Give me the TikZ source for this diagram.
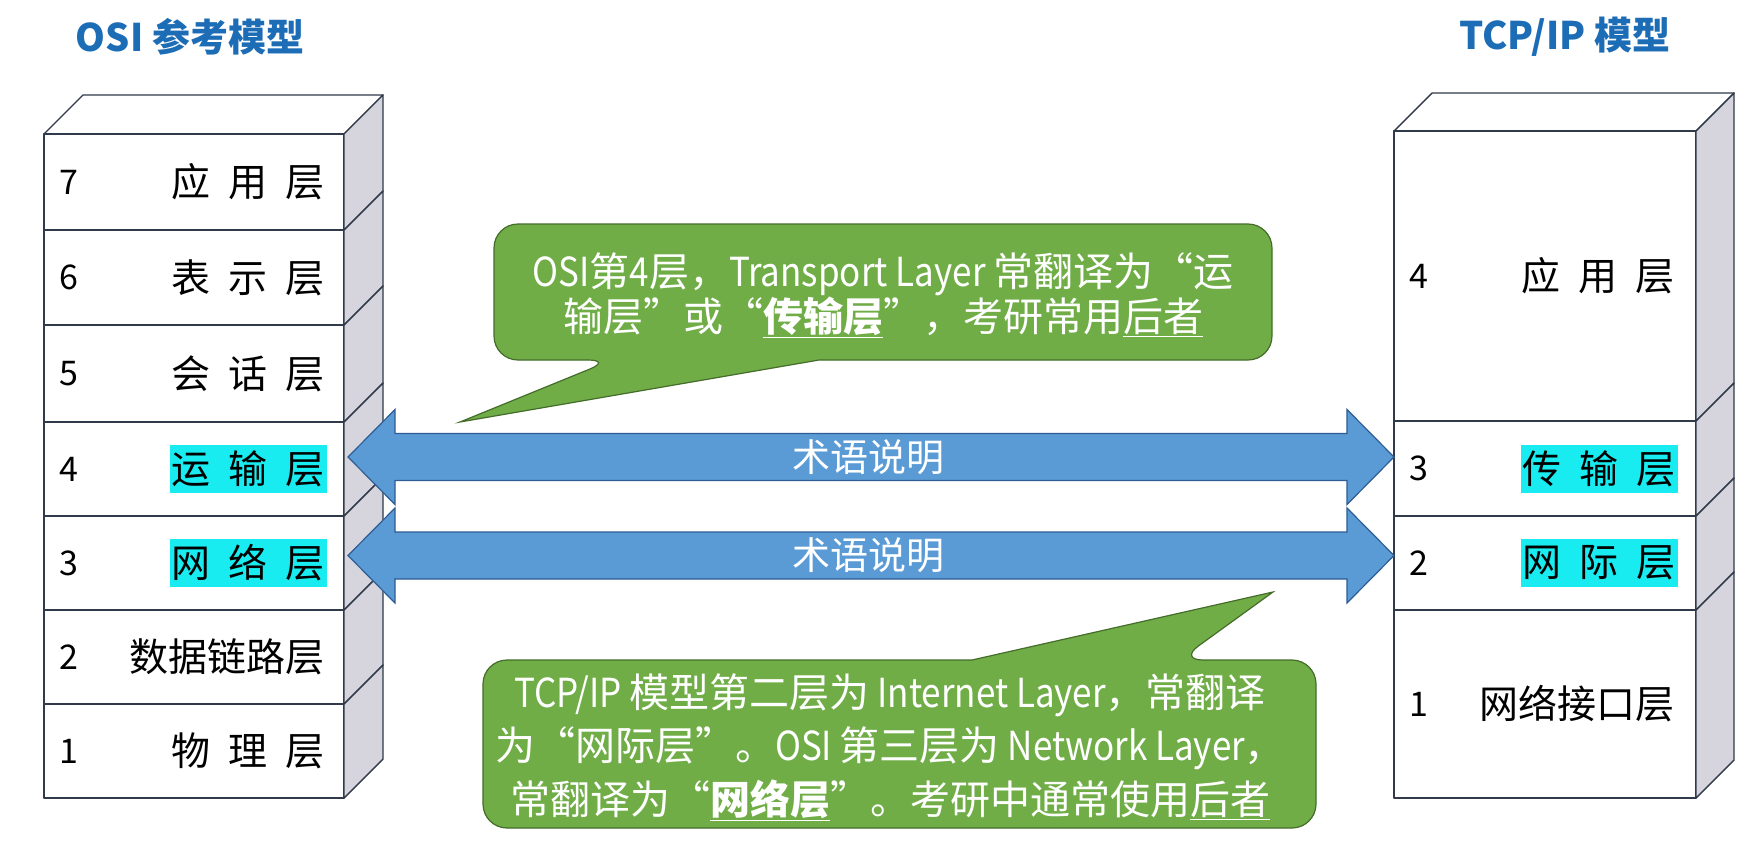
\documentclass[tikz,border=0pt]{standalone}
\usepackage{fontspec}
\usepackage{graphicx}
\setmainfont{Noto Sans CJK SC}
\usetikzlibrary{calc}
\definecolor{titleblue}{RGB}{28,108,182}
\definecolor{edge}{RGB}{48,58,74}
\definecolor{sidegray}{RGB}{214,213,222}
\definecolor{hl}{RGB}{24,236,240}
\definecolor{arrowfill}{RGB}{91,155,213}
\definecolor{arrowline}{RGB}{46,92,148}
\definecolor{callfill}{RGB}{112,173,71}
\definecolor{callline}{RGB}{68,108,42}
\newcommand{\fs}[1]{\fontsize{#1}{#1}\selectfont}
% narrower Latin runs inside the notes
\newcommand{\lat}[1]{\scalebox{0.875}[1]{#1}}
\begin{document}
\begin{tikzpicture}[x=1pt,y=-1pt,
  face/.style={draw=edge, line width=1.4pt, fill=white, line join=round},
  side/.style={draw=edge, line width=1.4pt, fill=sidegray, line join=round},
  num/.style={anchor=west, inner sep=0pt, font=\fs{34}},
  lname/.style={anchor=east, inner sep=0pt, font=\fs{39}},
  hlname/.style={anchor=east, inner xsep=2pt, inner ysep=0pt, minimum height=48pt, fill=hl, font=\fs{39}},
  title/.style={font=\fs{38}\bfseries, text=titleblue, inner sep=0pt},
  blockarrow/.style={fill=arrowfill, draw=arrowline, line width=1.2pt, line join=miter},
  arrowtext/.style={text=white, font=\fs{38}, inner sep=0pt},
  callout/.style={fill=callfill, draw=callline, line width=1.2pt},
  notetext/.style={text=white, font=\fs{40}, inner sep=0pt, align=center}]
\useasboundingbox (0,0) rectangle (1762,855);
\fill[white] (0,0) rectangle (1762,855);

% titles
\node[title] (osititle) at (190,37) {OSI 参考模型};
\node[title] (tcptitle) at (1565,37) {TCP/IP 模型};

% OSI stack: top face, then one front face and one side face per layer
\draw[face] (44,134) -- (83,95) -- (383,95) -- (344,134) -- cycle;
\foreach \t/\b in {134/230,230/325,325/422,422/516,516/610,610/704,704/798}{
  \draw[face] (44,\t) rectangle (344,\b);
  \draw[side] (344,\t) -- (383,\t-39) -- (383,\b-39) -- (344,\b) -- cycle;
}
\node[num] (o7n) at (59,182) {7};
\node[lname] (o7) at (325,182) {应\hspace{18pt}用\hspace{18pt}层};
\node[num] (o6n) at (59,277.5) {6};
\node[lname] (o6) at (325,277.5) {表\hspace{18pt}示\hspace{18pt}层};
\node[num] (o5n) at (59,373.5) {5};
\node[lname] (o5) at (325,373.5) {会\hspace{18pt}话\hspace{18pt}层};
\node[num] (o4n) at (59,469) {4};
\node[hlname] (o4) at (327,469) {运\hspace{18pt}输\hspace{18pt}层};
\node[num] (o3n) at (59,563) {3};
\node[hlname] (o3) at (327,563) {网\hspace{18pt}络\hspace{18pt}层};
\node[num] (o2n) at (59,657) {2};
\node[lname] (o2) at (325,657) {数据链路层};
\node[num] (o1n) at (59,751) {1};
\node[lname] (o1) at (325,751) {物\hspace{18pt}理\hspace{18pt}层};

% TCP/IP stack
\draw[face] (1394,131) -- (1432,93) -- (1734,93) -- (1696,131) -- cycle;
\foreach \t/\b in {131/421,421/516,516/610,610/798}{
  \draw[face] (1394,\t) rectangle (1696,\b);
  \draw[side] (1696,\t) -- (1734,\t-38) -- (1734,\b-38) -- (1696,\b) -- cycle;
}
\node[num] (t4n) at (1409,276) {4};
\node[lname] (t4) at (1675,276) {应\hspace{18pt}用\hspace{18pt}层};
\node[num] (t3n) at (1409,468.5) {3};
\node[hlname] (t3) at (1678,468.5) {传\hspace{18pt}输\hspace{18pt}层};
\node[num] (t2n) at (1409,563) {2};
\node[hlname] (t2) at (1678,563) {网\hspace{18pt}际\hspace{18pt}层};
\node[num] (t1n) at (1409,704) {1};
\node[lname] (t1) at (1675,704) {网络接口层};

% double block arrows between the stacks
\foreach \n/\c in {upper/457,lower/555.5}{
  \draw[blockarrow] (348,\c) -- (395,\c-47.5) -- (395,\c-23.5) -- (1347,\c-23.5)
     -- (1347,\c-47.5) -- (1394,\c) -- (1347,\c+47.5) -- (1347,\c+23.5)
     -- (395,\c+23.5) -- (395,\c+47.5) -- cycle;
  \node[arrowtext] (\n term) at (868,\c) {术语说明};
}

% upper callout
\draw[callout] (819,360) [rounded corners=24pt] -- (1272,360) -- (1272,224)
   -- (494,224) -- (494,360) -- (612,360) [sharp corners] -- (460,422) -- cycle;
\node[notetext] (note4) at (883,295) {%
  \baselineskip=46pt
  \lat{OSI}第\lat{4}层，\lat{Transport Layer }常翻译为“运\\
  输层”或“\underline{\bfseries 传输层}”，考研常用\underline{后者}};

% lower callout
\draw[callout] (972,660) [rounded corners=24pt] -- (483,660) -- (483,828)
   -- (1316,828) -- (1316,660) -- (1179,660) [sharp corners] -- (1273,592) -- cycle;
\node[notetext] (note3) at (890,747.5) {%
  \lat{TCP/IP }模型第二层为\lat{ Internet Layer}，常翻译\\[9pt]
  为“网际层”。\lat{OSI }第三层为\lat{ Network Layer}，\\[9pt]
  常翻译为“\underline{\bfseries 网络层}”。考研中通常使用\underline{后者}};
\end{tikzpicture}
\end{document}
